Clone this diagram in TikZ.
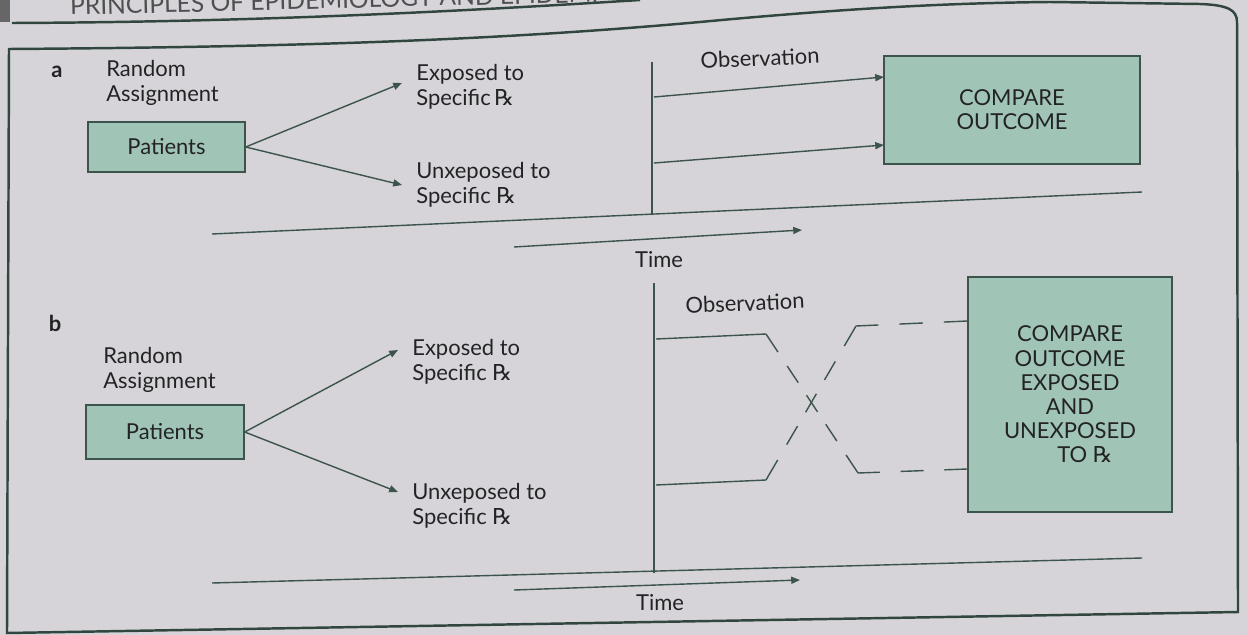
\documentclass[tikz,border=0pt]{standalone}
\usepackage{fontspec}
\setmainfont{Lato}
\newfontfamily\symfont{DejaVu Sans}
\usetikzlibrary{arrows.meta,calc}
\definecolor{paper}{RGB}{214,212,216}
\definecolor{boxfill}{RGB}{160,196,182}
\definecolor{ink}{RGB}{60,84,76}
\definecolor{frameink}{RGB}{50,70,64}
\definecolor{txt}{RGB}{35,35,38}
\newcommand{\rx}{{\symfont ℞}}
\tikzset{
  lbl/.style={font=\fontsize{12.5}{14}\selectfont, text=txt, inner sep=0pt, align=left},
  boxn/.style={draw=ink, fill=boxfill, line width=0.8pt, inner sep=0pt, align=center,
               font=\fontsize{12.5}{13.8}\selectfont, text=txt},
  ln/.style={draw=ink, line width=0.8pt},
  arr/.style={ln, -{Triangle[length=5pt,width=4pt]}},
  frameline/.style={draw=frameink, line width=1.4pt},
}
\begin{document}
\begin{tikzpicture}[x=0.02cm, y=-0.02cm]
\fill[paper] (0,0) rectangle (1247,635);
\useasboundingbox (0,0) rectangle (1247,635);
% header (cut off by the page edge)
\begin{scope}
\clip (0,0) rectangle (1247,635);
\fill[black!60] (0,0) rectangle (10,22);
\node[anchor=base west, rotate=1.4, inner sep=0pt, text=txt!80,
      font=\fontsize{14}{14}\selectfont] (hdr) at (70,15) {PRINCIPLES OF EPIDEMIOLOGY AND EPIDEMI};
\draw[frameline] (12,23) .. controls (250,22) and (450,12) .. (640,0);
\end{scope}
% frame
\draw[frameline] (9,49) .. controls (300,47) and (500,40) .. (700,22)
   .. controls (850,8) and (950,3) .. (1050,2) -- (1200,4)
   .. controls (1228,5) and (1237,10) .. (1237,22) -- (1238,612) -- (7,633) -- cycle;

% ---------------- panel a ----------------
\node[lbl, font=\bfseries\fontsize{12.5}{14}\selectfont] (la) at (57,72) {a};
\node[lbl, anchor=west] (raA) at (106,83) {Random\\Assignment};
\node[boxn, minimum width=3.14cm, minimum height=1.0cm] (patA) at (166.5,147) {Patients};
\coordinate (exA) at (402,83);
\coordinate (unA) at (402,185);
\draw[arr] (patA.east) -- (exA);
\draw[arr] (patA.east) -- (unA);
\node[lbl, anchor=west] (exAl) at (416,87) {Exposed to\\Specific\,\rx};
\node[lbl, anchor=west] (unAl) at (416,185) {Unxeposed to\\Specific \rx};
\coordinate (vA1) at (652,62);
\coordinate (vA2) at (652,215);
\draw[ln] (vA1) -- (vA2);
\node[lbl, rotate=2.5] (obsA) at (760,58) {Observation};
\node[boxn, minimum width=5.12cm, minimum height=2.16cm] (cmpA) at (1012,110) {COMPARE\\OUTCOME};
\coordinate (oA1) at (654,97);
\coordinate (oA2) at (654,163);
\coordinate (tA1) at (884,77);
\coordinate (tA2) at (884,145);
\draw[arr] (oA1) -- (tA1);
\draw[arr] (oA2) -- (tA2);
\coordinate (LA1) at (212,234);
\coordinate (LA2) at (1142,192);
\draw[ln] (LA1) -- (LA2);
\coordinate (TA1) at (514,247);
\coordinate (TA2) at (802,230);
\draw[arr] (TA1) -- (TA2);
\node[lbl] (timeA) at (659,260) {Time};

% ---------------- panel b ----------------
\node[lbl, font=\bfseries\fontsize{12.5}{14}\selectfont] (lb) at (55,323) {b};
\node[lbl, anchor=west] (raB) at (103,370) {Random\\Assignment};
\node[boxn, minimum width=3.16cm, minimum height=1.08cm] (patB) at (165,432) {Patients};
\coordinate (exB) at (398,350);
\coordinate (unB) at (398,492);
\draw[arr] (patB.east) -- (exB);
\draw[arr] (patB.east) -- (unB);
\node[lbl, anchor=west] (exBl) at (412,362) {Exposed to\\Specific \rx};
\node[lbl, anchor=west] (unBl) at (412,506) {Unxeposed to\\Specific \rx};
\coordinate (vB1) at (654,283);
\coordinate (vB2) at (654,573);
\draw[ln] (vB1) -- (vB2);
\node[lbl, rotate=2.5] (obsB) at (745,303) {Observation};
\node[boxn, minimum width=4.08cm, minimum height=4.7cm] (cmpB) at (1070,394.5)
   {COMPARE\\OUTCOME\\EXPOSED\\AND\\UNEXPOSED\\\hspace*{0.6cm}TO \rx};
% crossing paths
\coordinate (u1) at (656,339);
\coordinate (u2) at (766,334);
\coordinate (u3) at (858,473);
\coordinate (u4) at (cmpB.west |- 0,469);
\coordinate (l1) at (656,485);
\coordinate (l2) at (766,480);
\coordinate (l3) at (856,326);
\coordinate (l4) at (cmpB.west |- 0,321);
\draw[ln] (u1) -- (u2);
\draw[ln] (l1) -- (l2);
\foreach \s/\e in {0/0.13, 0.23/0.35, 0.44/0.56, 0.65/0.77, 0.87/1}{
  \draw[ln] ($(u2)!\s!(u3)$) -- ($(u2)!\e!(u3)$);
  \draw[ln] ($(l2)!\s!(l3)$) -- ($(l2)!\e!(l3)$);
}
\foreach \s/\e in {0/0.2, 0.39/0.6, 0.79/1}{
  \draw[ln] ($(u3)!\s!(u4)$) -- ($(u3)!\e!(u4)$);
  \draw[ln] ($(l3)!\s!(l4)$) -- ($(l3)!\e!(l4)$);
}
\coordinate (LB1) at (212,583);
\coordinate (LB2) at (1142,558);
\draw[ln] (LB1) -- (LB2);
\coordinate (TB1) at (514,590);
\coordinate (TB2) at (800,580);
\draw[arr] (TB1) -- (TB2);
\node[lbl] (timeB) at (660,603) {Time};
\end{tikzpicture}
\end{document}
